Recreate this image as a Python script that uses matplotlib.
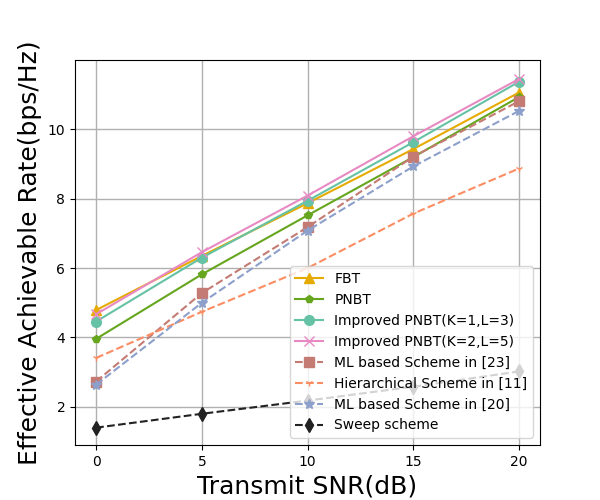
import matplotlib
matplotlib.use("Agg")
import matplotlib.pyplot as plt

snr = [0, 5, 10, 15, 20]
fbt = [4.79, 6.35, 7.87, 9.43, 11.06]
pnbt = [3.96, 5.82, 7.52, 9.20, 10.93]
imp_k1 = [4.46, 6.30, 7.94, 9.63, 11.37]
imp_k2 = [4.67, 6.46, 8.09, 9.80, 11.45]
ml23 = [2.73, 5.28, 7.18, 9.21, 10.81]
hier = [3.41, 4.74, 6.00, 7.57, 8.87]
ml20 = [2.64, 5.00, 7.08, 8.93, 10.53]
sweep = [1.40, 1.80, 2.18, 2.58, 3.02]

labels = ["FBT", "PNBT", "Improved PNBT(K=1,L=3)", "Improved PNBT(K=2,L=5)",
          "ML based Scheme in [23]", "Hierarchical Scheme in [11]",
          "ML based Scheme in [20]", "Sweep scheme"]

fig, ax = plt.subplots(figsize=(6, 5), dpi=100)
ax.plot(snr, fbt, '-', marker='^', color='#E6AB02', ms=7, lw=1.5, label=labels[0])
ax.plot(snr, pnbt, '-', marker='p', color='#66A61E', ms=6, lw=1.5, label=labels[1])
ax.plot(snr, imp_k1, '-', marker='o', color='#66C2A5', ms=7, lw=1.5, label=labels[2])
ax.plot(snr, imp_k2, '-', marker='x', color='#E78AC3', ms=7, lw=1.5, label=labels[3])
ax.plot(snr, ml23, '--', marker='s', color='#C47B73', ms=7, lw=1.5, label=labels[4])
ax.plot(snr, hier, '--', marker='1', color='#FC8D62', ms=5, lw=1.5, label=labels[5])
ax.plot(snr, ml20, '--', marker='*', color='#8DA0CB', ms=7, lw=1.5, label=labels[6])
ax.plot(snr, sweep, '--', marker='d', color='#222222', ms=7, lw=1.5, label=labels[7])

ax.set_xlim(-1, 21)
ax.set_ylim(0.9, 12.0)
ax.set_xticks([0, 5, 10, 15, 20])
ax.set_yticks([2, 4, 6, 8, 10])
ax.grid(True, color='#b0b0b0', lw=1)
ax.set_xlabel("Transmit SNR(dB)", fontsize=18)
ax.set_ylabel("Effective Achievable Rate(bps/Hz)", fontsize=18)
ax.legend(loc='lower right', fontsize=10)
fig.savefig("out.png", dpi=100)
